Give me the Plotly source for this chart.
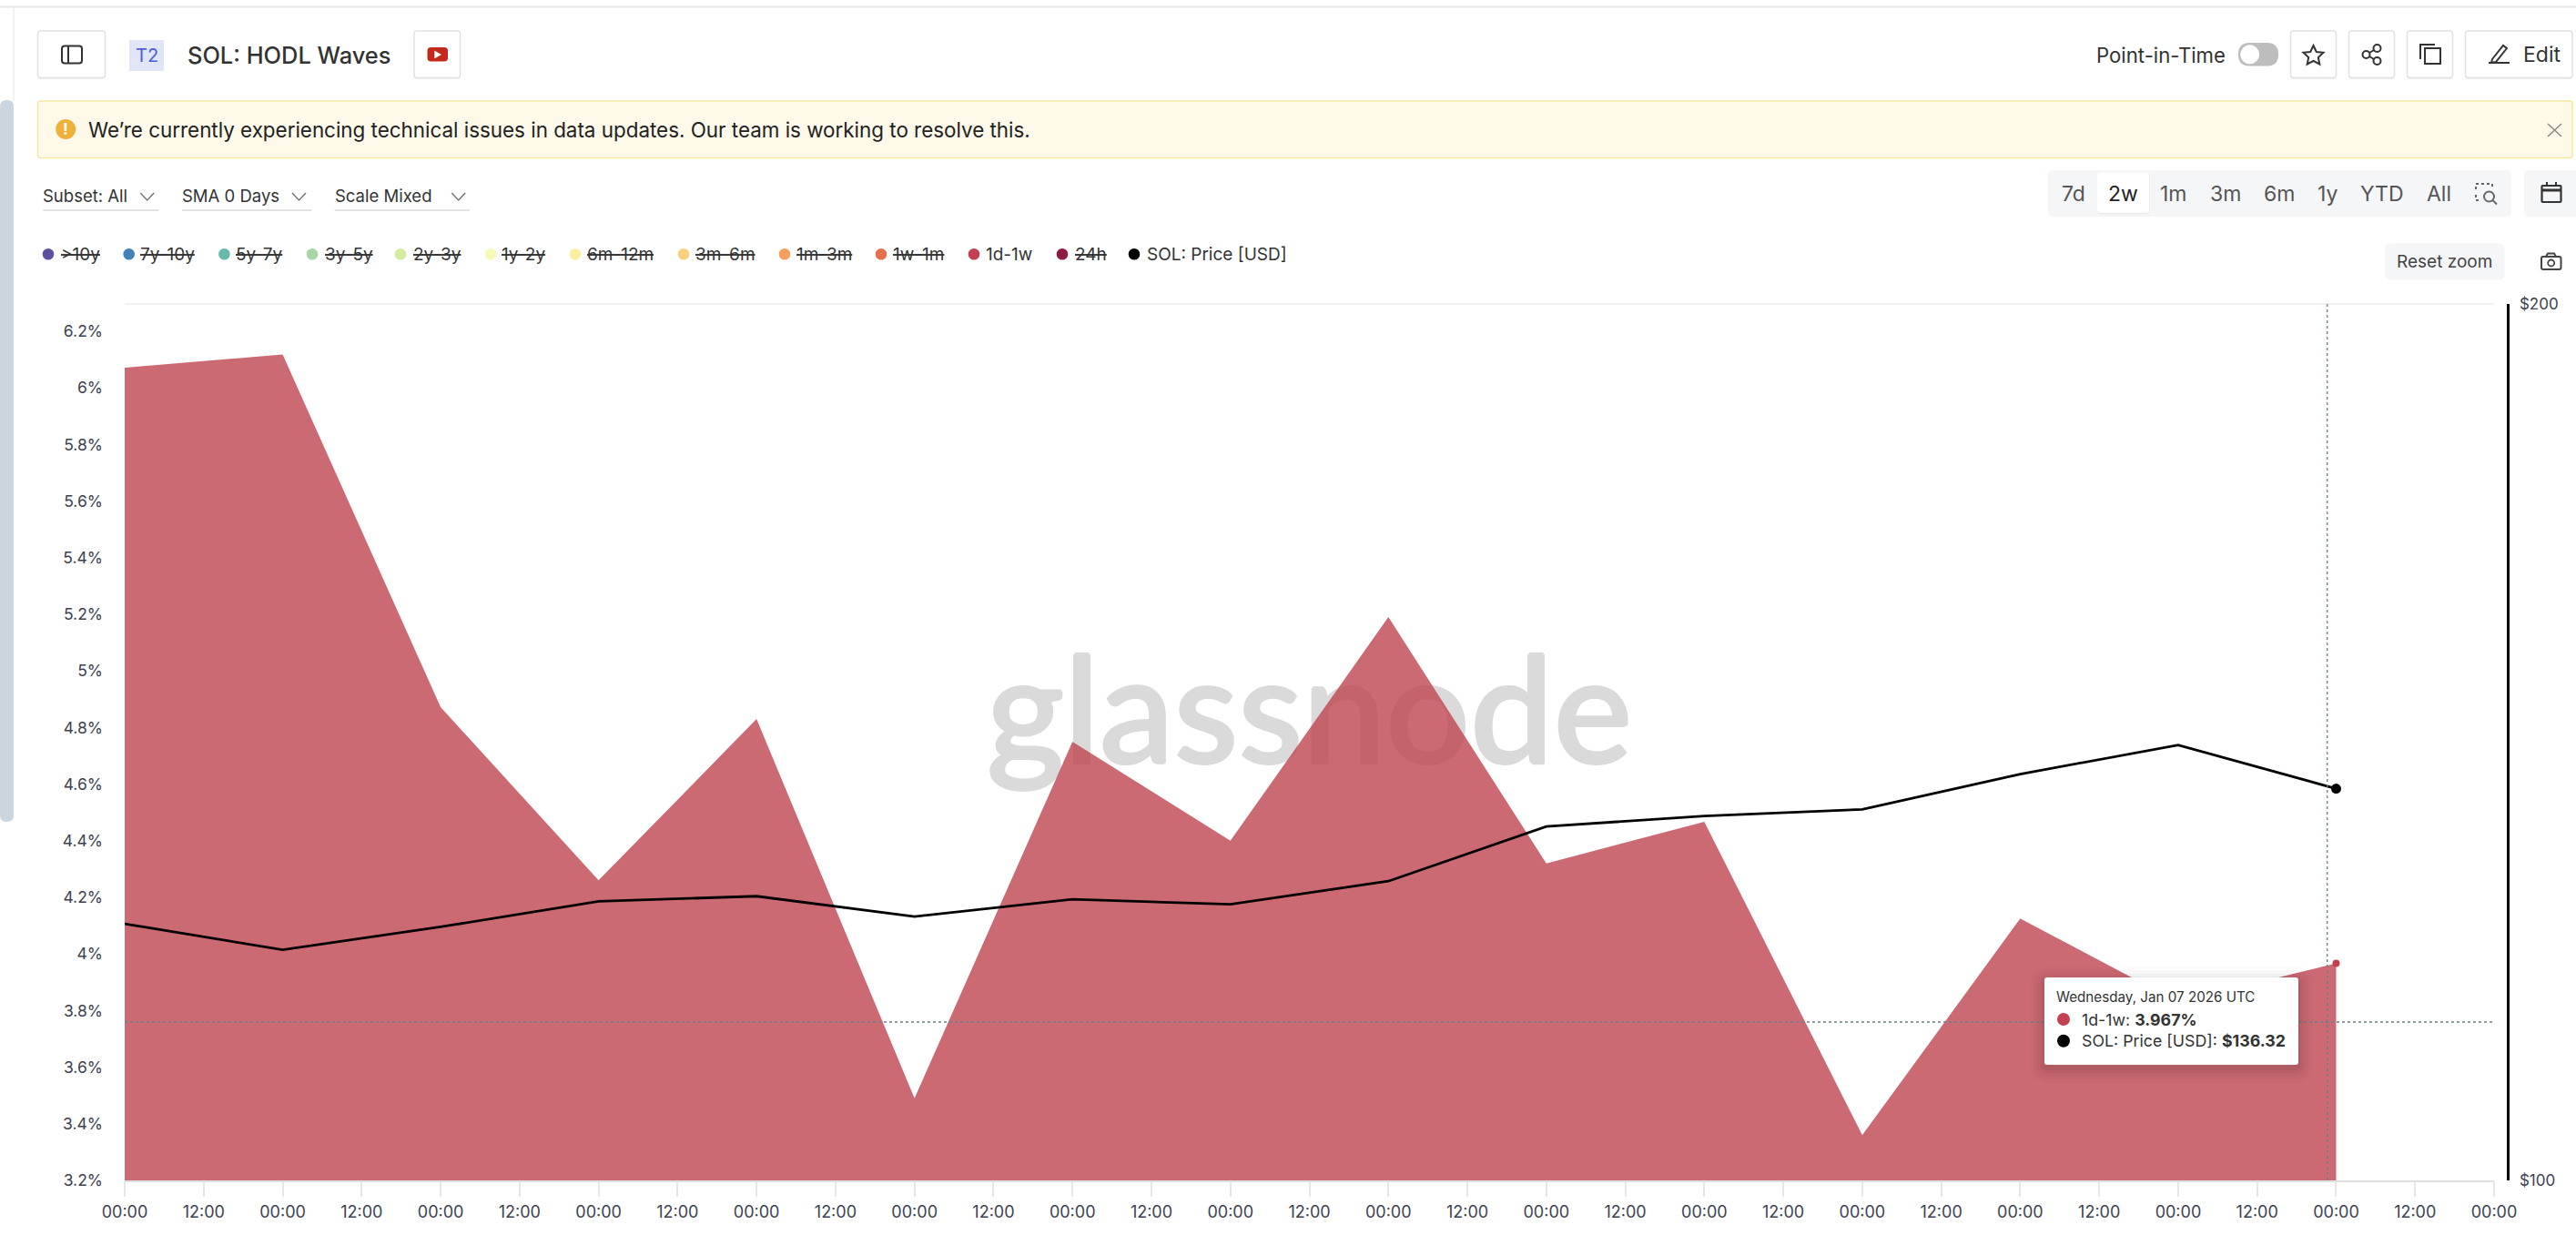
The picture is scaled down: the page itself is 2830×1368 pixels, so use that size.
import plotly.graph_objects as go

W, H = 2830, 1368

# data
dates = ['2025-12-24', '2025-12-25', '2025-12-26', '2025-12-27', '2025-12-28',
         '2025-12-29', '2025-12-30', '2025-12-31', '2026-01-01', '2026-01-02',
         '2026-01-03', '2026-01-04', '2026-01-05', '2026-01-06', '2026-01-07']
hodl_1d_1w = [6.071, 6.118, 4.872, 4.26, 4.83, 3.49, 4.75, 4.40, 5.19, 4.32,
              4.467, 3.36, 4.125, 3.83, 3.967]
sol_price = [122.5, 120.0, 122.2, 124.7, 125.2, 123.2, 124.9, 124.4, 126.7, 132.3,
             133.4, 134.1, 137.9, 141.1, 136.32]
pct_ticks = [3.2, 3.4, 3.6, 3.8, 4, 4.2, 4.4, 4.6, 4.8, 5, 5.2, 5.4, 5.6, 5.8, 6, 6.2]
pct_labels = ['3.2%', '3.4%', '3.6%', '3.8%', '4%', '4.2%', '4.4%', '4.6%', '4.8%',
              '5%', '5.2%', '5.4%', '5.6%', '5.8%', '6%', '6.2%']
price_ticks = [100, 200]
price_labels = ['$100', '$200']
legend_names = ['>10y', '7y-10y', '5y-7y', '3y-5y', '2y-3y', '1y-2y', '6m-12m', '3m-6m',
                '1m-3m', '1w-1m', '1d-1w', '24h', 'SOL: Price [USD]']
legend_colors = ['#5e4fa2', '#4382b8', '#65b9ad', '#a5d8a4', '#d3eca0', '#f6f9b8', '#fdeea0',
                 '#fbcf7d', '#f3a05f', '#e4704d', '#c2404f', '#8e1a45', '#000000']
legend_dot_x = [53, 141.7, 246.4, 343, 440, 539, 632, 751, 862, 968, 1070, 1167, 1246]
legend_text_x = [66.8, 154, 259, 356.5, 454, 551, 645, 763.5, 874.5, 981, 1083, 1180.5, 1260]
legend_active = ['1d-1w', 'SOL: Price [USD]']

FONT = 'Inter'
shapes = []
notes = []


def fx(x):
    return x / W


def fy(y):
    return 1 - y / H


def rr_path(x0, y0, x1, y1, r):
    # rounded rectangle in page pixels
    X0, X1, Y0, Y1 = fx(x0), fx(x1), fy(y0), fy(y1)
    rx, ry = r / W, r / H
    return (f'M{X0 + rx},{Y0} L{X1 - rx},{Y0} Q{X1},{Y0} {X1},{Y0 - ry} '
            f'L{X1},{Y1 + ry} Q{X1},{Y1} {X1 - rx},{Y1} '
            f'L{X0 + rx},{Y1} Q{X0},{Y1} {X0},{Y1 + ry} '
            f'L{X0},{Y0 - ry} Q{X0},{Y0} {X0 + rx},{Y0} Z')


def box(x0, y0, x1, y1, r=3, fill='white', line=None, lw=1.5):
    shapes.append(dict(type='path', xref='paper', yref='paper', path=rr_path(x0, y0, x1, y1, r),
                       fillcolor=fill, line=dict(color=line or 'rgba(0,0,0,0)', width=lw if line else 0),
                       layer='above'))


def stroke(pts, color='#333333', lw=2, close=False, fill='rgba(0,0,0,0)', dash=None):
    p = 'M' + ' L'.join(f'{fx(a)},{fy(b)}' for a, b in pts) + (' Z' if close else '')
    shapes.append(dict(type='path', xref='paper', yref='paper', path=p, fillcolor=fill,
                       line=dict(color=color, width=lw, dash=dash), layer='above'))


def dot(cx, cy, r, fill, line=None, lw=2):
    shapes.append(dict(type='circle', xref='paper', yref='paper',
                       x0=fx(cx - r), x1=fx(cx + r), y0=fy(cy + r), y1=fy(cy - r), fillcolor=fill,
                       line=dict(color=line or 'rgba(0,0,0,0)', width=lw if line else 0), layer='above'))


def text(s, x, y, size, color='#333333', anchor='left', weight=400):
    # annotations pad the text a little on the left
    if anchor == 'left':
        x -= 2
    notes.append(dict(text=s, x=fx(x), y=fy(y), xref='paper', yref='paper', xanchor=anchor,
                      yanchor='middle', showarrow=False,
                      font=dict(family=FONT, size=size, color=color, weight=weight)))


def button(x0, x1):
    box(x0, 35, x1, 87, 3, 'rgba(0,0,0,0.05)')
    box(x0, 34, x1, 85.5, 3, 'white', '#e2e2e2', 1.5)


fig = go.Figure()
# watermark sits under the area, shadow thickens the strokes
fig.add_trace(go.Scatter(x=['2025-12-31 12:00'], y=[4.805], mode='text', text=['glassnode'],
                         textposition='middle center', yaxis='y', hoverinfo='skip',
                         textfont=dict(family='Lato', size=163, color='#dadada', weight=500,
                                       shadow='1.5px 0 #dadada, -1.5px 0 #dadada, 0 1.5px #dadada, 0 -1.5px #dadada')))
fig.add_trace(go.Scatter(x=dates, y=hodl_1d_1w, mode='lines', name='1d-1w', fill='tozeroy',
                         fillcolor='rgba(190,69,80,0.8)', line=dict(width=0), yaxis='y'))
fig.add_trace(go.Scatter(x=dates[-1:], y=hodl_1d_1w[-1:], mode='markers', yaxis='y',
                         marker=dict(color='#c2404f', size=8)))
fig.add_trace(go.Scatter(x=dates, y=sol_price, mode='lines', name='SOL: Price [USD]',
                         line=dict(color='black', width=2.8), yaxis='y2'))
fig.add_trace(go.Scatter(x=dates[-1:], y=sol_price[-1:], mode='markers', yaxis='y2',
                         marker=dict(color='black', size=11)))

# page chrome
shapes.append(dict(type='line', xref='paper', yref='paper', x0=0, x1=1, y0=fy(7.5), y1=fy(7.5),
                   line=dict(color='#e6e6e6', width=2), layer='above'))
shapes.append(dict(type='line', xref='paper', yref='paper', x0=fx(15), x1=fx(15), y0=fy(8), y1=fy(110),
                   line=dict(color='#eeeeee', width=1.5), layer='above'))
box(0, 110, 15, 903, 7, '#cbd5df')

button(41.5, 115.5)
box(68, 50.5, 90, 69.5, 3, 'white', '#333333', 2)
stroke([(75, 50.5), (75, 69.5)], '#333333', 2)
box(142, 44, 180, 78, 0, '#e1e5f8')
text('T2', 161, 61.5, 20, '#4a5fd6', 'center')
text('SOL: HODL Waves', 206, 60, 25.4, '#333333', weight=500)
button(455, 505.5)
box(469.5, 52, 492, 67.5, 4, '#c4281c')
stroke([(477.5, 56), (477.5, 64), (484.5, 60)], 'white', 0.5, True, 'white')

text('Point-in-Time', 2303, 60, 22.2, '#333333')
box(2459, 47, 2503, 72.5, 12.5, '#bdbdbd')
dot(2471.7, 59.8, 10.5, 'white')
button(2516.5, 2566.5)
stroke([(2541.5, 50), (2544.8, 57), (2552.5, 57.8), (2546.8, 63), (2548.3, 70.5), (2541.5, 66.8),
        (2534.7, 70.5), (2536.2, 63), (2530.5, 57.8), (2538.2, 57)], '#333333', 2, True)
button(2580.5, 2630.5)
dot(2611.5, 53, 4, 'white', '#333333', 2)
dot(2611.5, 67, 4, 'white', '#333333', 2)
dot(2599.5, 60, 4, 'white', '#333333', 2)
stroke([(2603, 58), (2608, 55)], '#333333', 2)
stroke([(2603, 62), (2608, 65)], '#333333', 2)
button(2644.5, 2694.5)
box(2664, 53, 2681, 70, 0, 'white', '#333333', 2)
stroke([(2659, 65), (2659, 49), (2675, 49)], '#333333', 2)
button(2708.5, 2826)
stroke([(2738, 65), (2750, 50), (2754, 53), (2742, 68), (2737, 69)], '#333333', 2, True)
stroke([(2734, 69), (2757, 69)], '#333333', 2)
text('Edit', 2772, 60, 23, '#333333')

# warning banner
box(41.5, 111, 2826, 173.5, 3, '#fef9e8', '#f6e6a5', 1.5)
dot(72.2, 142, 11, '#f0b03c')
text('!', 72.2, 142, 17, 'white', 'center', 700)
text('We’re currently experiencing technical issues in data updates. Our team is working to resolve this.',
     96.5, 143, 22.4, '#222222')
stroke([(2799, 136), (2814, 150)], '#8a8a80', 1.5)
stroke([(2814, 136), (2799, 150)], '#8a8a80', 1.5)

# dropdowns
for label, x0, x1, cx in [('Subset: All', 47.3, 174, 161.7), ('SMA 0 Days', 200.3, 342, 328.5),
                          ('Scale Mixed', 367.7, 516, 503.7)]:
    text(label, x0, 215, 18.5, '#333333')
    stroke([(cx - 7.5, 212), (cx, 220), (cx + 7.5, 212)], '#777777', 1.5)
    stroke([(x0, 231), (x1, 231)], '#d8d8d8', 1.5)

# range selector
box(2250, 187, 2759, 238, 5, '#f5f6f8')
box(2773, 187, 2836, 238, 5, '#f5f6f8')
box(2304, 190, 2361.5, 235, 3, 'rgba(0,0,0,0.06)')
box(2304, 190, 2361, 234, 3, 'white')
for label, cx in [('7d', 2278), ('2w', 2332.7), ('1m', 2388), ('3m', 2445), ('6m', 2504),
                  ('1y', 2557), ('YTD', 2617), ('All', 2679)]:
    text(label, cx, 213, 23, '#222222' if label == '2w' else '#555555', 'center')
stroke([(2720, 208), (2720, 202), (2738, 202), (2738, 206)], '#666666', 2, dash='3px,3px')
stroke([(2720, 214), (2720, 220), (2725, 220)], '#666666', 2, dash='3px,3px')
dot(2734.5, 216, 5.5, 'rgba(0,0,0,0)', '#666666', 2)
stroke([(2738.5, 220), (2743, 224.5)], '#666666', 2)
box(2792.5, 204, 2813.5, 222, 1, 'rgba(0,0,0,0)', '#333333', 2.2)
stroke([(2792.5, 209), (2813.5, 209)], '#333333', 3)
stroke([(2798, 200), (2798, 205)], '#333333', 2)
stroke([(2808, 200), (2808, 205)], '#333333', 2)

# legend row
for name, col, dx, tx in zip(legend_names, legend_colors, legend_dot_x, legend_text_x):
    dot(dx, 279.3, 6.3, col)
    text(name if name in legend_active else f'<s>{name}</s>', tx, 279.3, 19, '#333333')

box(2620, 267.5, 2751.5, 307.5, 6, '#f5f6f8')
text('Reset zoom', 2685.7, 287.3, 19, '#444444', 'center')
box(2792, 282, 2813.5, 296, 2, 'rgba(0,0,0,0)', '#444444', 2)
stroke([(2797, 282), (2799, 278.5), (2806, 278.5), (2808, 282)], '#444444', 2)
dot(2802.7, 289, 3.5, 'rgba(0,0,0,0)', '#444444', 1.8)

# top edge of plot and hover crosshair
stroke([(137, 334), (2740, 334)], '#f0f0f0', 2)
stroke([(2556.7, 334), (2556.7, 1297)], '#6b7f8f', 1.3, dash='3px,3px')
stroke([(137, 1123), (2740, 1123)], '#6b7f8f', 1.3, dash='3px,3px')

# tooltip
for grow, alpha in [(16, 0.012), (12, 0.018), (8, 0.025), (5, 0.03), (2, 0.04)]:
    box(2246 - grow, 1074 - grow + 4, 2525 + grow, 1170 + grow + 4, 4 + grow, f'rgba(0,0,0,{alpha})')
box(2246, 1074, 2525, 1170, 3, 'white')
text('Wednesday, Jan 07 2026 UTC', 2259, 1095.7, 15.2, '#333333')
dot(2267, 1120, 7, '#c2404f')
text('1d-1w: <b>3.967%</b>', 2287, 1120, 17.8, '#333333')
dot(2267, 1143.7, 7, 'black')
text('SOL: Price [USD]: <b>$136.32</b>', 2287, 1143.7, 17.8, '#333333')

fig.update_layout(
    width=W, height=H, margin=dict(l=0, r=0, t=0, b=0, autoexpand=False), showlegend=False,
    paper_bgcolor='white', plot_bgcolor='white', hovermode=False,
    font=dict(family=FONT, size=18, color='#3d4250'),
    shapes=shapes, annotations=notes,
    xaxis=dict(type='date', domain=[fx(137), fx(2740)], range=['2025-12-24', '2026-01-08'],
               dtick=43200000, tick0='2025-12-24', tickformat='%H:%M', showgrid=False, zeroline=False,
               showline=True, linecolor='#e0e0e0', linewidth=2, ticks='outside', ticklen=16,
               tickcolor='#e6e6e6', tickwidth=1.5, tickangle=0, ticklabelstandoff=1, automargin=False,
               tickfont=dict(family=FONT, size=18, color='#3d4250')),
    yaxis=dict(domain=[fy(1297), fy(334)], range=[3.2, 3.2 + 963 / 311], tickvals=pct_ticks,
               ticktext=pct_labels, showgrid=False, zeroline=False, showline=False, ticks='',
               ticklabelstandoff=23, automargin=False, tickfont=dict(family=FONT, size=17.5, color='#3d4250')),
    yaxis2=dict(type='log', overlaying='y', side='right', anchor='free', position=fx(2754.5),
                range=[2, 2.30103], tickvals=price_ticks, ticktext=price_labels, showgrid=False,
                zeroline=False, showline=True, linecolor='black', linewidth=3, ticks='', automargin=False,
                ticklabelstandoff=8, tickfont=dict(family=FONT, size=17, color='#3d4250')),
)

fig.write_html('out.html', config=dict(displayModeBar=False),
               post_script="document.body.style.margin='0';document.body.style.overflow='hidden';")
